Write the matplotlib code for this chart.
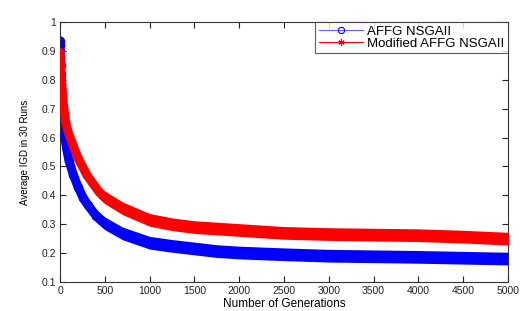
import matplotlib
matplotlib.use("Agg")
import matplotlib.pyplot as plt
import numpy as np
from matplotlib.lines import Line2D
from matplotlib.ticker import FormatStrFormatter

plt.rcParams['font.family'] = ['Liberation Sans', 'DejaVu Sans']

# values (band centres)
gen_affg = [1, 2, 3, 5, 7, 10, 20, 35, 50, 75, 100, 150, 200, 260, 315, 400, 500,
            700, 1000, 1250, 1500, 1750, 2000, 2500, 3000, 3500, 4000, 4500, 5000]
igd_affg = [0.935, 0.92, 0.90, 0.88, 0.85, 0.82, 0.74, 0.66, 0.61, 0.56, 0.52,
            0.47, 0.43, 0.39, 0.365, 0.33, 0.303, 0.268, 0.236, 0.225, 0.216,
            0.207, 0.202, 0.196, 0.191, 0.189, 0.187, 0.184, 0.181]

gen_mod = [1, 2, 3, 5, 10, 20, 35, 65, 100, 150, 200, 300, 440, 500, 700,
           1000, 1250, 1500, 1750, 2000, 2500, 3000, 3500, 4000, 4500, 5000]
igd_mod = [0.895, 0.88, 0.865, 0.85, 0.82, 0.78, 0.72, 0.65, 0.61, 0.57, 0.53,
           0.47, 0.41, 0.393, 0.355, 0.315, 0.30, 0.29, 0.285, 0.28, 0.27, 0.266,
           0.264, 0.262, 0.257, 0.25]

spread = 0.022

xticks = [0, 500, 1000, 1500, 2000, 2500, 3000, 3500, 4000, 4500, 5000]
yticks = [0.1, 0.2, 0.3, 0.4, 0.5, 0.6, 0.7, 0.8, 0.9, 1.0]

fig = plt.figure(figsize=(5.26, 3.11), dpi=100)
ax = fig.add_axes([60 / 526, 1 - 282 / 311, 448 / 526, 260 / 311])

series = [(gen_affg, igd_affg, 'b', 'o'), (gen_mod, igd_mod, 'r', (6, 2, 0))]
for k, (g, v, c, m) in enumerate(series):
    v = np.array(v)
    z = 2 + 3 * k
    ax.fill_between(g, v - spread, v + spread, color=c, lw=0, zorder=z)
    ax.plot(g, v, color=c, lw=6.5, solid_capstyle='round', zorder=z)
    if m == 'o':
        ax.plot(g, v, ls='none', marker='o', ms=6, mfc='none', mec=c,
                mew=0.8, zorder=z + 1)
    else:
        ax.plot(g, v, ls='none', marker=m, ms=6, color=c, mew=1.0, zorder=z + 1)

ax.set_xlim(0, 5000)
ax.set_ylim(0.1, 1.0)
ax.set_xticks(xticks)
ax.set_yticks(yticks)
ax.yaxis.set_major_formatter(FormatStrFormatter('%g'))
ax.tick_params(direction='in', top=True, right=True, length=4, width=0.8,
               labelsize=7.5, colors='#222222', pad=3)
for s in ax.spines.values():
    s.set_color('#333333')
    s.set_linewidth(0.8)

ax.set_xlabel('Number of Generations', fontsize=8.5, labelpad=1)
ax.set_ylabel('Average IGD in 30 Runs', fontsize=7, labelpad=8)

handles = [
    Line2D([], [], color='#6060ff', lw=0.8, marker='o', ms=4.5, mfc='none',
           mec='b', mew=0.8),
    Line2D([], [], color='r', lw=0.8, marker=(6, 2, 0), ms=4.5, mew=0.9),
]
leg = ax.legend(handles, ['AFFG NSGAII', 'Modified AFFG NSGAII'],
                loc='upper right', fontsize=9.5, frameon=True, fancybox=False,
                borderaxespad=0, handlelength=3.4, handletextpad=0.3,
                labelspacing=0.0, borderpad=0.25)
leg.get_frame().set_edgecolor('#333333')
leg.get_frame().set_linewidth(0.8)

fig.savefig('out.png', dpi=100)
